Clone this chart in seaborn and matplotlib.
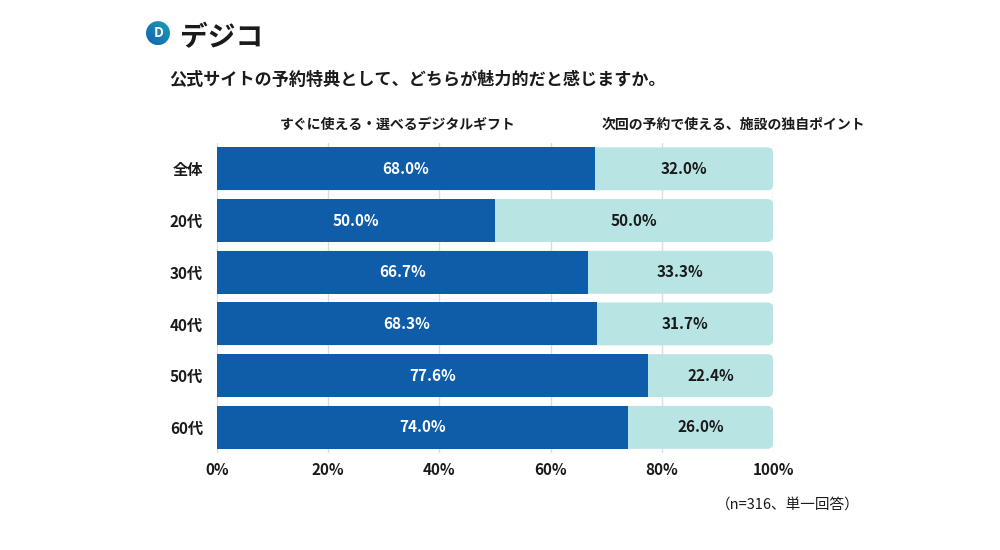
import pandas as pd
import numpy as np
import seaborn as sns
import matplotlib.pyplot as plt
from matplotlib.patches import FancyBboxPatch, Circle
from matplotlib.colors import LinearSegmentedColormap

# データ
groups = ['全体', '20代', '30代', '40代', '50代', '60代']
gift = [68.0, 50.0, 66.7, 68.3, 77.6, 74.0]
point = [32.0, 50.0, 33.3, 31.7, 22.4, 26.0]
series_names = ['すぐに使える・選べるデジタルギフト', '次回の予約で使える、施設の独自ポイント']
xticks = [0, 20, 40, 60, 80, 100]

dark = '#0F5DA8'
light = '#B8E4E4'

sns.set_theme(style='white')
plt.rcParams['font.family'] = ['Noto Sans CJK JP', 'DejaVu Sans']

df = pd.DataFrame({'group': groups, 'gift': gift, 'point': point})
df['total'] = df['gift'] + df['point']

fig = plt.figure(figsize=(10, 5.5), dpi=100)
ax = fig.add_axes([0.217, 0.176, 0.556, 0.564])

# 背景(合計)バー → 右端を丸める
sns.barplot(data=df, x='total', y='group', color=light, width=0.83,
            saturation=1, linewidth=0, ax=ax, zorder=2)
old = list(ax.patches)
for p in old:
    x0, y0 = p.get_x(), p.get_y()
    w, h = p.get_width(), p.get_height()
    p.remove()
    rb = FancyBboxPatch((x0, y0), w, h,
                        boxstyle='round,pad=0,rounding_size=1.0',
                        mutation_aspect=0.108, fc=light, ec='none', zorder=2)
    ax.add_patch(rb)

sns.barplot(data=df, x='gift', y='group', color=dark, width=0.83,
            saturation=1, linewidth=0, ax=ax, zorder=3)

for i, (g, pt) in enumerate(zip(gift, point)):
    ax.text(g / 2, i, f'{g:.1f}%', ha='center', va='center', color='white',
            fontsize=11, fontweight='bold', zorder=4)
    ax.text(g + pt / 2, i, f'{pt:.1f}%', ha='center', va='center', color='#1a1a1a',
            fontsize=11, fontweight='bold', zorder=4)

ax.set_xlim(0, 100)
ax.set_ylim(5.5, -0.5)
ax.set_xticks(xticks)
ax.set_xticklabels([f'{t}%' for t in xticks], fontsize=11, fontweight='bold', color='#1a1a1a')
ax.tick_params(axis='y', labelsize=11, length=0, pad=10)
ax.tick_params(axis='x', length=0, pad=6)
for lab in ax.get_yticklabels():
    lab.set_fontweight('bold')
    lab.set_color('#1a1a1a')
ax.set_xlabel('')
ax.set_ylabel('')
for s in ax.spines.values():
    s.set_visible(False)
ax.xaxis.grid(True, color='#dddddd', linewidth=1, zorder=0)
ax.set_axisbelow(True)

# 凡例的な見出し
fig.text(0.398, 0.773, series_names[0], ha='center', va='center', fontsize=10,
         fontweight='bold', color='#1a1a1a')
fig.text(0.733, 0.773, series_names[1], ha='center', va='center', fontsize=10,
         fontweight='bold', color='#1a1a1a')

# タイトル
fig.text(0.169, 0.855, '公式サイトの予約特典として、どちらが魅力的だと感じますか。',
         ha='left', va='center', fontsize=12.3, fontweight='bold', color='#1a1a1a')

# 注記
fig.text(0.860, 0.082, '（n=316、単一回答）', ha='right', va='center', fontsize=10.5,
         color='#1a1a1a')

# ロゴ（グラデーションの円）
lax = fig.add_axes([0.146, 0.918, 0.024, 0.0436])
lax.set_xlim(-1, 1)
lax.set_ylim(-1, 1)
lax.axis('off')
grad_cmap = LinearSegmentedColormap.from_list('logo', ['#1560b0', '#1a9fb5'])
grad = np.linspace(0, 1, 64).reshape(1, -1) * np.ones((64, 1))
grad = (grad + np.linspace(1, 0, 64).reshape(-1, 1)) / 2
im = lax.imshow(grad, cmap=grad_cmap, extent=(-1, 1, -1, 1), origin='upper')
clip = Circle((0, 0), 1, transform=lax.transData)
im.set_clip_path(clip)
lax.text(0.08, -0.02, 'D', ha='center', va='center', color='white', fontsize=10,
         fontweight='bold')
fig.text(0.180, 0.930, 'デジコ', ha='left', va='center', fontsize=20,
         fontweight='bold', color='#1a1a1a')

fig.savefig('out.png', dpi=100)
